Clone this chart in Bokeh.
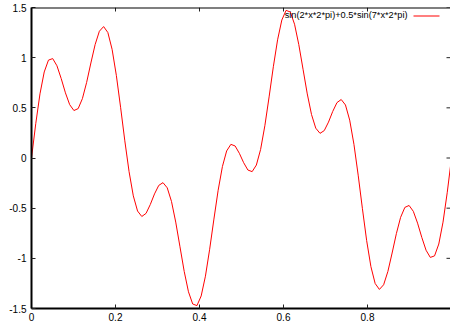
import math
from bokeh.plotting import figure
from bokeh.models import Range1d, LinearAxis, FixedTicker, Label, Arrow, Span
from bokeh.embed import file_html
from bokeh.resources import INLINE

# ---- data (100 samples of the curve named in the key) ----
x_vals = [0.0, 0.0101, 0.0202, 0.0303, 0.0404, 0.0505, 0.0606, 0.0707, 0.0808, 0.0909,
          0.1010, 0.1111, 0.1212, 0.1313, 0.1414, 0.1515, 0.1616, 0.1717, 0.1818, 0.1919,
          0.2020, 0.2121, 0.2222, 0.2323, 0.2424, 0.2525, 0.2626, 0.2727, 0.2828, 0.2929,
          0.3030, 0.3131, 0.3232, 0.3333, 0.3434, 0.3535, 0.3636, 0.3737, 0.3838, 0.3939,
          0.4040, 0.4141, 0.4242, 0.4343, 0.4444, 0.4545, 0.4646, 0.4747, 0.4848, 0.4949,
          0.5051, 0.5152, 0.5253, 0.5354, 0.5455, 0.5556, 0.5657, 0.5758, 0.5859, 0.5960,
          0.6061, 0.6162, 0.6263, 0.6364, 0.6465, 0.6566, 0.6667, 0.6768, 0.6869, 0.6970,
          0.7071, 0.7172, 0.7273, 0.7374, 0.7475, 0.7576, 0.7677, 0.7778, 0.7879, 0.7980,
          0.8081, 0.8182, 0.8283, 0.8384, 0.8485, 0.8586, 0.8687, 0.8788, 0.8889, 0.8990,
          0.9091, 0.9192, 0.9293, 0.9394, 0.9495, 0.9596, 0.9697, 0.9798, 0.9899, 1.0]
y_vals = [0.0, 0.3415, 0.6392, 0.8576, 0.9756, 0.9908, 0.9192, 0.7920, 0.6493, 0.5318,
          0.4730, 0.4924, 0.5916, 0.7538, 0.9471, 1.1308, 1.2633, 1.3100, 1.2507, 1.0831,
          0.8239, 0.5058, 0.1710, -0.1360, -0.3774, -0.5287, -0.5829, -0.5521, -0.4642, -0.3577,
          -0.2731, -0.2456, -0.2973, -0.4330, -0.6388, -0.8849, -1.1307, -1.3333, -1.4550, -1.4713,
          -1.3749, -1.1779, -0.9092, -0.6090, -0.3214, -0.0858, 0.0702, 0.1360, 0.1198, 0.0467,
          -0.0467, -0.1198, -0.1360, -0.0702, 0.0858, 0.3214, 0.6090, 0.9092, 1.1779, 1.3749,
          1.4713, 1.4550, 1.3333, 1.1307, 0.8849, 0.6388, 0.4330, 0.2973, 0.2456, 0.2731,
          0.3577, 0.4642, 0.5521, 0.5829, 0.5287, 0.3774, 0.1360, -0.1710, -0.5058, -0.8239,
          -1.0831, -1.2507, -1.3100, -1.2633, -1.1308, -0.9471, -0.7538, -0.5916, -0.4924, -0.4730,
          -0.5318, -0.6493, -0.7920, -0.9192, -0.9908, -0.9756, -0.8576, -0.6392, -0.3415, 0.0]
series_name = "sin(2*x*2*pi)+0.5*sin(7*x*2*pi)"
x_ticks = [0.0, 0.2, 0.4, 0.6, 0.8, 1.0]
x_tick_labels = ["0", "0.2", "0.4", "0.6", "0.8", "1"]
y_ticks = [-1.5, -1.0, -0.5, 0.0, 0.5, 1.0, 1.5]
y_tick_labels = ["-1.5", "-1", "-0.5", "0", "0.5", "1", "1.5"]

FONT = "Liberation Sans"
X_END = 0.9976   # the frame runs past the window's right edge up to x = 1
Y_START, Y_END = -1.5, 1.5

p = figure(width=450, height=326, output_backend="svg", toolbar_location=None,
           x_range=Range1d(0, X_END), y_range=Range1d(Y_START, Y_END),
           x_axis_location=None, y_axis_location=None,
           min_border_left=31, min_border_right=0, min_border_top=7, min_border_bottom=18)
p.outline_line_color = None
p.grid.visible = False
p.background_fill_color = "white"
p.border_fill_color = "white"


def style_axis(ax, ticks, labels):
    ax.ticker = FixedTicker(ticks=ticks)
    ax.major_label_overrides = {t: l for t, l in zip(ticks, labels)}
    ax.major_tick_in = 4
    ax.major_tick_out = 0
    ax.major_tick_line_color = "#222222"
    ax.major_tick_line_width = 1
    ax.minor_tick_line_color = None
    ax.axis_line_color = "black"
    ax.axis_line_width = 2
    ax.major_label_text_font = FONT
    ax.major_label_text_font_size = "10px"
    ax.major_label_text_color = "black"


xb = LinearAxis()
style_axis(xb, x_ticks, x_tick_labels)
xb.major_label_standoff = 4
p.add_layout(xb, "below")
yl = LinearAxis()
style_axis(yl, y_ticks, y_tick_labels)
yl.major_label_standoff = 5
p.add_layout(yl, "left")

# top border and mirror ticks (top and right), as gnuplot draws them
p.add_layout(Span(location=Y_END, dimension="width", line_color="black", line_width=2))
p.ray(x=x_ticks, y=[Y_END] * len(x_ticks), length=4, length_units="screen",
      angle=-math.pi / 2, line_color="#222222", line_width=1)
p.ray(x=[X_END] * len(y_ticks), y=y_ticks, length=4, length_units="screen",
      angle=math.pi, line_color="#222222", line_width=1)

p.line(x_vals, y_vals, line_color="#ff0000", line_width=1)

# key: text then sample line (gnuplot style)
p.add_layout(Label(x=0.8952, y=1.4203, text=series_name, text_align="right",
                   text_baseline="middle", text_font=FONT, text_font_size="9.2px",
                   text_color="black"))
p.add_layout(Arrow(end=None, start=None, x_start=0.9095, y_start=1.4153,
                   x_end=0.9714, y_end=1.4153, line_color="#ff0000", line_width=1.2))

open("out.html", "w").write(file_html(p, INLINE))
